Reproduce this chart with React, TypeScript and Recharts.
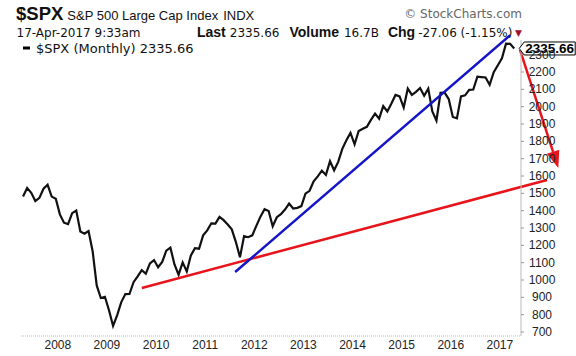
import React from "react";
import { LineChart, Line, XAxis, YAxis, ReferenceLine, ReferenceDot } from "recharts";

// monthly closes, $SPX, Apr 2007 .. Apr 2017
const close2007 = [1482.37, 1530.62, 1503.35, 1455.27, 1473.99, 1526.75, 1549.38, 1481.14, 1468.36];
const close2008 = [1378.55, 1330.63, 1322.7, 1385.59, 1400.38, 1280.0, 1267.38, 1282.83, 1166.36, 968.75, 896.24, 903.25];
const close2009 = [825.88, 735.09, 797.87, 872.81, 919.14, 919.32, 987.48, 1020.62, 1057.08, 1036.19, 1095.63, 1115.1];
const close2010 = [1073.87, 1104.49, 1169.43, 1186.69, 1089.41, 1030.71, 1101.6, 1049.33, 1141.2, 1183.26, 1180.55, 1257.64];
const close2011 = [1286.12, 1327.22, 1325.83, 1363.61, 1345.2, 1320.64, 1292.28, 1218.89, 1131.42, 1253.3, 1246.96, 1257.6];
const close2012 = [1312.41, 1365.68, 1408.47, 1397.91, 1310.33, 1362.16, 1379.32, 1406.58, 1440.67, 1412.16, 1416.18, 1426.19];
const close2013 = [1498.11, 1514.68, 1569.19, 1597.57, 1630.74, 1606.28, 1685.73, 1632.97, 1681.55, 1756.54, 1805.81, 1848.36];
const close2014 = [1782.59, 1859.45, 1872.34, 1883.95, 1923.57, 1960.23, 1930.67, 2003.37, 1972.29, 2018.05, 2067.56, 2058.9];
const close2015 = [1994.99, 2104.5, 2067.89, 2085.51, 2107.39, 2063.11, 2103.84, 1972.18, 1920.03, 2079.36, 2080.41, 2043.94];
const close2016 = [1940.24, 1932.23, 2059.74, 2065.3, 2096.95, 2098.86, 2173.6, 2170.95, 2168.27, 2126.15, 2198.81, 2238.83];
const close2017 = [2278.87, 2363.64, 2362.72, 2335.66];

const yearTicks = [2008, 2009, 2010, 2011, 2012, 2013, 2014, 2015, 2016, 2017];
const priceTicks = [700, 800, 900, 1000, 1100, 1200, 1300, 1400, 1500, 1600, 1700, 1800, 1900, 2000, 2100, 2200, 2300];

// hand-drawn annotations, [year, price]
const blueTrend = [[2011.61, 1046], [2017.21, 2413]];
const redTrend = [[2009.71, 954], [2017.96, 1577]];
const redArrow = [[2017.41, 2327], [2018.19, 1646]];

const lastValue = 2335.66;

const yearly: [number, number, number[]][] = [
  [2007, 4, close2007],
  [2008, 1, close2008],
  [2009, 1, close2009],
  [2010, 1, close2010],
  [2011, 1, close2011],
  [2012, 1, close2012],
  [2013, 1, close2013],
  [2014, 1, close2014],
  [2015, 1, close2015],
  [2016, 1, close2016],
  [2017, 1, close2017],
];

const data = yearly.flatMap(([year, first, closes]) =>
  closes.map((v, i) => ({ t: year + (first - 1 + i + 0.5) / 12, close: v }))
);
const lastT = data[data.length - 1].t;

const seg = (p: number[][]) => [
  { x: p[0][0], y: p[0][1] },
  { x: p[1][0], y: p[1][1] },
];

const ARIAL = "Liberation Sans, Arial, sans-serif";
const VERDANA = "DejaVu Sans, Verdana, sans-serif";

const PriceTick = (props: any) => {
  const { x, y, payload } = props;
  return (
    <text x={x + 16} y={y} dy={4} textAnchor="middle" fontSize={12} fill="#222" fontFamily={ARIAL}>
      {payload.value}
    </text>
  );
};

const ArrowShape = (props: any) => {
  const { x1, y1, x2, y2 } = props;
  const a = Math.atan2(y2 - y1, x2 - x1);
  const len = 17;
  const half = 6.5;
  const bx = x2 - len * Math.cos(a);
  const by = y2 - len * Math.sin(a);
  const px = -Math.sin(a) * half;
  const py = Math.cos(a) * half;
  return (
    <g>
      <line x1={x1} y1={y1} x2={bx} y2={by} stroke="#e8141c" strokeWidth={2.5} />
      <polygon points={`${x2},${y2} ${bx + px},${by + py} ${bx - px},${by - py}`} fill="#e8141c" />
    </g>
  );
};

const LastLabel = (props: any) => {
  const { cx, cy } = props;
  return (
    <g>
      <polygon
        points={`${cx + 5},${cy} ${cx + 10},${cy - 6.5} ${cx + 61},${cy - 6.5} ${cx + 61},${cy + 6.5} ${cx + 10},${cy + 6.5}`}
        fill="#fff"
        stroke="#000"
      />
      <text x={cx + 35.5} y={cy + 5} textAnchor="middle" fontSize={13.5} fontWeight="bold" fill="#000" fontFamily={ARIAL}>
        {lastValue}
      </text>
    </g>
  );
};

export default function App() {
  return (
    <div style={{ position: "fixed", left: 0, top: 0, width: 576, height: 356, background: "#fff" }}>
      <LineChart width={576} height={356} data={data} margin={{ top: 40, right: 0, bottom: 0, left: 21 }}>
        <XAxis
          dataKey="t"
          type="number"
          domain={[2007.25, 2017.43]}
          ticks={yearTicks}
          interval={0}
          allowDataOverflow
          tickLine={false}
          tickSize={0}
          tickMargin={4}
          height={20}
          axisLine={{ stroke: "#bbb", strokeDasharray: "1 1" }}
          tick={{ fontSize: 12, fill: "#222", fontFamily: ARIAL }}
        />
        <XAxis xAxisId="top" orientation="top" type="number" domain={[2007.25, 2017.43]} tick={false} tickLine={false} height={0} axisLine={{ stroke: "#c8c8c8" }} />
        <YAxis
          orientation="right"
          type="number"
          domain={[677, 2384.6]}
          ticks={priceTicks}
          interval={0}
          allowDataOverflow
          width={55}
          tickSize={3}
          tickLine={{ stroke: "#999" }}
          axisLine={{ stroke: "#bbb" }}
          tick={PriceTick}
        />
        <YAxis yAxisId="left" orientation="left" width={0} tick={false} tickLine={false} axisLine={{ stroke: "#bbb" }} />
        <Line type="linear" dataKey="close" stroke="#111" strokeWidth={2.2} dot={false} isAnimationActive={false} />
        <ReferenceLine segment={seg(redTrend)} stroke="#e8141c" strokeWidth={2.5} ifOverflow="visible" />
        <ReferenceLine segment={seg(blueTrend)} stroke="#1414c8" strokeWidth={2.5} ifOverflow="visible" />
        <ReferenceLine segment={seg(redArrow)} ifOverflow="visible" shape={ArrowShape} />
        <ReferenceDot x={lastT} y={lastValue} r={0} ifOverflow="visible" shape={LastLabel} />
      </LineChart>

      <svg width={576} height={356} style={{ position: "absolute", left: 0, top: 0, pointerEvents: "none" }}>
        <text x={16} y={20} fontFamily={ARIAL} fill="#111">
          <tspan fontSize={18.5} fontWeight="bold">$SPX</tspan>
          <tspan fontSize={13} dx={4}>S&amp;P 500 Large Cap Index</tspan>
          <tspan fontSize={13} dx={5}>INDX</tspan>
        </text>
        <text x={522} y={18} textAnchor="end" fontFamily={VERDANA} fontSize={12} fill="#666">
          © StockCharts.com
        </text>

        <text x={16.5} y={37} fontFamily={VERDANA} fontSize={12} fill="#111">
          17-Apr-2017 9:33am
        </text>
        <text x={197} y={37} fill="#111">
          <tspan fontFamily={ARIAL} fontWeight="bold" fontSize={14}>Last</tspan>
          <tspan fontFamily={VERDANA} fontSize={12} dx={4}>2335.66</tspan>
          <tspan fontFamily={ARIAL} fontWeight="bold" fontSize={14} dx={10}>Volume</tspan>
          <tspan fontFamily={VERDANA} fontSize={12} dx={5}>16.7B</tspan>
          <tspan fontFamily={ARIAL} fontWeight="bold" fontSize={14} dx={9}>Chg</tspan>
          <tspan fontFamily={VERDANA} fontSize={12} dx={3}>-27.06 (-1.15%)</tspan>
        </text>
        <text x={518.5} y={36} textAnchor="middle" fontSize={9} fill="#a0102a" fontFamily={VERDANA}>
          ▼
        </text>

        <line x1={23} x2={30} y1={48} y2={48} stroke="#000" strokeWidth={3} />
        <text x={36} y={52.5} fontFamily={VERDANA} fontSize={13} fill="#111">
          $SPX (Monthly) 2335.66
        </text>
      </svg>
    </div>
  );
}
